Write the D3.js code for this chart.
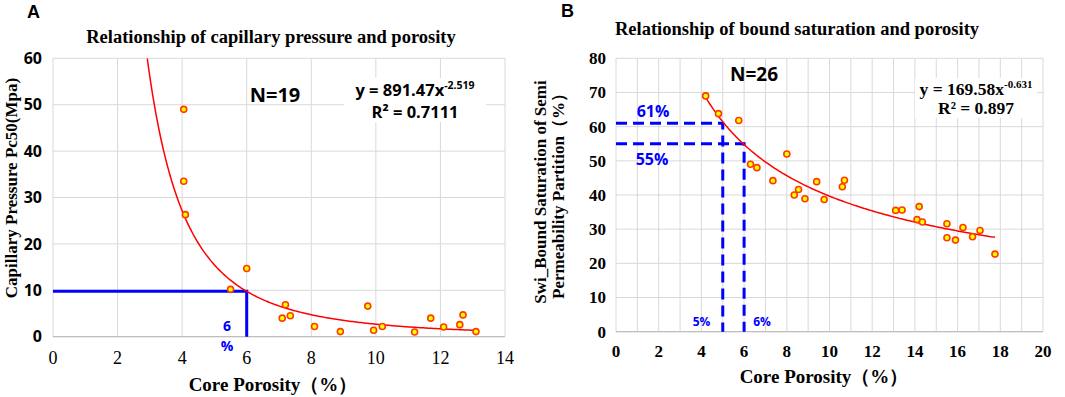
<!DOCTYPE html>
<html>
<head>
<meta charset="utf-8">
<script src="https://cdn.jsdelivr.net/npm/d3@7"></script>
<style>
  body { margin: 0; background: #fff; }
  svg { display: block; }
</style>
</head>
<body>
<svg id="chart" width="1065" height="397"></svg>
<script>
// Panel A: capillary pressure vs porosity
const porosityA = [4.05, 4.05, 4.1, 6.0, 5.5, 7.2, 7.1, 7.35, 8.1, 8.9, 9.75, 9.93, 10.2, 11.2, 11.7, 12.1, 12.6, 12.7, 13.1];
const pc50A = [49, 33.5, 26.3, 14.7, 10.2, 6.9, 4.0, 4.5, 2.2, 1.1, 6.6, 1.4, 2.2, 1.0, 4.0, 2.1, 2.6, 4.7, 1.1];
const fitA = { a: 891.47, b: -2.519, from: 2.92, to: 13.1 };
const cutoffA = { x: 6, y: 9.8 };
const xTicksA = [0, 2, 4, 6, 8, 10, 12, 14];
const yTicksA = [0, 10, 20, 30, 40, 50, 60];

// Panel B: bound saturation vs porosity
const porosityB = [4.2, 4.8, 5.75, 8.0, 6.3, 6.6, 7.35, 8.35, 8.55, 8.85, 9.4, 9.75, 10.6, 10.7, 13.1, 13.4, 14.2, 14.1, 14.35, 15.5, 16.25, 17.05, 15.5, 15.9, 16.7, 17.75];
const swiB = [69, 63.8, 61.8, 52, 49, 48, 44.2, 40, 41.6, 38.9, 43.9, 38.7, 42.4, 44.3, 35.5, 35.6, 36.6, 32.8, 32.1, 31.6, 30.5, 29.6, 27.5, 26.8, 27.8, 22.7];
const fitB = { a: 169.58, b: -0.631, from: 4.2, to: 17.75 };
const cutoffsB = [{ x: 5, y: 61 }, { x: 6, y: 55 }];
const xTicksB = d3.range(0, 21, 2);
const yTicksB = [0, 10, 20, 30, 40, 50, 60, 70, 80];

const svg = d3.select('#chart');
const SANS = '"Open Sans", "DejaVu Sans", sans-serif';
const SERIF = '"Liberation Serif", "Times New Roman", serif';
const BLUE = '#0000ff';

function panel(opts) {
  const x = d3.scaleLinear().domain(opts.xDomain).range(opts.xRange);
  const y = d3.scaleLinear().domain(opts.yDomain).range(opts.yRange);
  const g = svg.append('g');

  // grid
  g.append('g').selectAll('line').data(opts.xGrid).join('line')
    .attr('x1', d => x(d)).attr('x2', d => x(d))
    .attr('y1', y.range()[0]).attr('y2', y.range()[1])
    .attr('stroke', '#d9d9d9').attr('stroke-width', 1);
  g.append('g').selectAll('line').data(opts.yTicks).join('line')
    .attr('x1', x.range()[0]).attr('x2', x.range()[1])
    .attr('y1', d => y(d)).attr('y2', d => y(d))
    .attr('stroke', '#d9d9d9').attr('stroke-width', 1);
  g.append('line')
    .attr('x1', x.range()[0]).attr('x2', x.range()[1])
    .attr('y1', y(0)).attr('y2', y(0))
    .attr('stroke', '#bfbfbf').attr('stroke-width', 1.2);

  // tick labels
  g.append('g').selectAll('text').data(opts.yTicks).join('text')
    .attr('x', opts.yTickX).attr('y', d => y(d))
    .attr('dy', '0.35em')
    .attr('text-anchor', 'end')
    .attr('font-family', opts.yTickFont).attr('font-weight', 'bold')
    .attr('font-size', opts.yTickSize)
    .text(d => d);
  g.append('g').selectAll('text').data(opts.xTicks).join('text')
    .attr('x', d => x(d)).attr('y', opts.xTickY)
    .attr('text-anchor', 'middle')
    .attr('font-family', SERIF).attr('font-weight', opts.xTickWeight)
    .attr('font-size', opts.xTickSize)
    .text(d => d);

  return { g, x, y };
}

function fitCurve(g, x, y, fit) {
  const pts = d3.range(0, 201).map(i => {
    const xv = fit.from + (fit.to - fit.from) * i / 200;
    return [xv, fit.a * Math.pow(xv, fit.b)];
  });
  g.append('path')
    .datum(pts)
    .attr('fill', 'none')
    .attr('stroke', '#ff0000')
    .attr('stroke-width', 1.5)
    .attr('d', d3.line().x(d => x(d[0])).y(d => y(d[1])));
}

function dots(g, x, y, xs, ys) {
  g.append('g').selectAll('circle').data(xs).join('circle')
    .attr('cx', d => x(d))
    .attr('cy', (d, i) => y(ys[i]))
    .attr('r', 3)
    .attr('fill', '#ffff00')
    .attr('stroke', '#ff3c00')
    .attr('stroke-width', 1.6);
}

// ---------- Panel A ----------
const A = panel({
  xDomain: [0, 14], xRange: [53, 505],
  yDomain: [0, 60], yRange: [336.7, 58.3],
  xGrid: xTicksA, xTicks: xTicksA, yTicks: yTicksA,
  yTickX: 42, yTickFont: SANS, yTickSize: 16,
  xTickY: 364, xTickWeight: 'normal', xTickSize: 18
});

// cutoff lines
A.g.append('path')
  .attr('d', `M${A.x(0)},${A.y(cutoffA.y)}H${A.x(cutoffA.x)}V${A.y(0)}`)
  .attr('fill', 'none').attr('stroke', BLUE).attr('stroke-width', 3);
A.g.append('text').attr('x', 227).attr('y', 331)
  .attr('text-anchor', 'middle').attr('font-family', SANS).attr('font-weight', 'bold')
  .attr('font-size', 14).attr('fill', BLUE).text('6');
A.g.append('text').attr('x', 227).attr('y', 351)
  .attr('text-anchor', 'middle').attr('font-family', SANS).attr('font-weight', 'bold')
  .attr('font-size', 14).attr('fill', BLUE).text('%');

fitCurve(A.g, A.x, A.y, fitA);
dots(A.g, A.x, A.y, porosityA, pc50A);

// equation box
A.g.append('rect').attr('x', 344).attr('y', 78).attr('width', 142).attr('height', 44).attr('fill', '#fff');
const eqA = A.g.append('text').attr('x', 415).attr('y', 96)
  .attr('text-anchor', 'middle').attr('font-family', SANS).attr('font-weight', 'bold').attr('font-size', 16.5);
eqA.append('tspan').text('y = 891.47x');
eqA.append('tspan').attr('font-size', 10.5).attr('dy', -7).text('-2.519');
A.g.append('text').attr('x', 415).attr('y', 117.5)
  .attr('text-anchor', 'middle').attr('font-family', SANS).attr('font-weight', 'bold').attr('font-size', 16.5)
  .text('R² = 0.7111');

A.g.append('text').attr('x', 275).attr('y', 101.5)
  .attr('text-anchor', 'middle').attr('font-family', SANS).attr('font-weight', 'bold').attr('font-size', 20)
  .text('N=19');

A.g.append('text').attr('x', 271).attr('y', 43)
  .attr('text-anchor', 'middle').attr('font-family', SERIF).attr('font-weight', 'bold').attr('font-size', 18.5)
  .text('Relationship of capillary pressure and porosity');
A.g.append('text').attr('x', 273).attr('y', 391)
  .attr('text-anchor', 'middle').attr('font-family', SERIF).attr('font-weight', 'bold').attr('font-size', 19)
  .text('Core Porosity（%）');
A.g.append('text').attr('transform', 'translate(11,188) rotate(-90)')
  .attr('text-anchor', 'middle').attr('dominant-baseline', 'central')
  .attr('font-family', SERIF).attr('font-weight', 'bold').attr('font-size', 17)
  .text('Capillary Pressure Pc50(Mpa)');
A.g.append('text').attr('x', 27).attr('y', 18)
  .attr('font-family', '"Liberation Sans", Arial, sans-serif').attr('font-weight', 'bold').attr('font-size', 18)
  .text('A');

// ---------- Panel B ----------
const B = panel({
  xDomain: [0, 20], xRange: [616, 1043],
  yDomain: [0, 80], yRange: [331.7, 58.3],
  xGrid: d3.range(0, 21, 1), xTicks: xTicksB, yTicks: yTicksB,
  yTickX: 606, yTickFont: SERIF, yTickSize: 17,
  xTickY: 357, xTickWeight: 'bold', xTickSize: 17
});

cutoffsB.forEach(c => {
  B.g.append('path')
    .attr('d', `M${B.x(0)},${B.y(c.y)}H${B.x(c.x)}V${B.y(0)}`)
    .attr('fill', 'none').attr('stroke', BLUE).attr('stroke-width', 3)
    .attr('stroke-dasharray', '11,6');
});
const blueLabel = (x, y, size, t) => B.g.append('text').attr('x', x).attr('y', y)
  .attr('text-anchor', 'middle').attr('font-family', SANS).attr('font-weight', 'bold')
  .attr('font-size', size).attr('fill', BLUE).text(t);
blueLabel(653, 116.5, 16, '61%');
blueLabel(652, 165, 16, '55%');
blueLabel(701.5, 326, 12, '5%');
blueLabel(762, 326, 12, '6%');

fitCurve(B.g, B.x, B.y, fitB);
dots(B.g, B.x, B.y, porosityB, swiB);

B.g.append('rect').attr('x', 915).attr('y', 78).attr('width', 122).attr('height', 40).attr('fill', '#fff');
const eqB = B.g.append('text').attr('x', 976).attr('y', 95)
  .attr('text-anchor', 'middle').attr('font-family', SERIF).attr('font-weight', 'bold').attr('font-size', 17.5);
eqB.append('tspan').text('y = 169.58x');
eqB.append('tspan').attr('font-size', 11).attr('dy', -7).text('-0.631');
B.g.append('text').attr('x', 976).attr('y', 114)
  .attr('text-anchor', 'middle').attr('font-family', SERIF).attr('font-weight', 'bold').attr('font-size', 17.5)
  .text('R² = 0.897');

B.g.append('text').attr('x', 754).attr('y', 81)
  .attr('text-anchor', 'middle').attr('font-family', SANS).attr('font-weight', 'bold').attr('font-size', 19)
  .text('N=26');

B.g.append('text').attr('x', 797).attr('y', 35)
  .attr('text-anchor', 'middle').attr('font-family', SERIF).attr('font-weight', 'bold').attr('font-size', 18.5)
  .text('Relationship of bound saturation and porosity');
B.g.append('text').attr('x', 824).attr('y', 383)
  .attr('text-anchor', 'middle').attr('font-family', SERIF).attr('font-weight', 'bold').attr('font-size', 19)
  .text('Core Porosity（%）');
B.g.append('text').attr('transform', 'translate(540,192) rotate(-90)')
  .attr('text-anchor', 'middle').attr('dominant-baseline', 'central')
  .attr('font-family', SERIF).attr('font-weight', 'bold').attr('font-size', 17)
  .text('Swi_Bound Saturation of Semi');
B.g.append('text').attr('transform', 'translate(558,192) rotate(-90)')
  .attr('text-anchor', 'middle').attr('dominant-baseline', 'central')
  .attr('font-family', SERIF).attr('font-weight', 'bold').attr('font-size', 17)
  .text('Permeability Partition（%）');
B.g.append('text').attr('x', 561).attr('y', 16.5)
  .attr('font-family', '"Liberation Sans", Arial, sans-serif').attr('font-weight', 'bold').attr('font-size', 18)
  .text('B');
</script>
</body>
</html>
